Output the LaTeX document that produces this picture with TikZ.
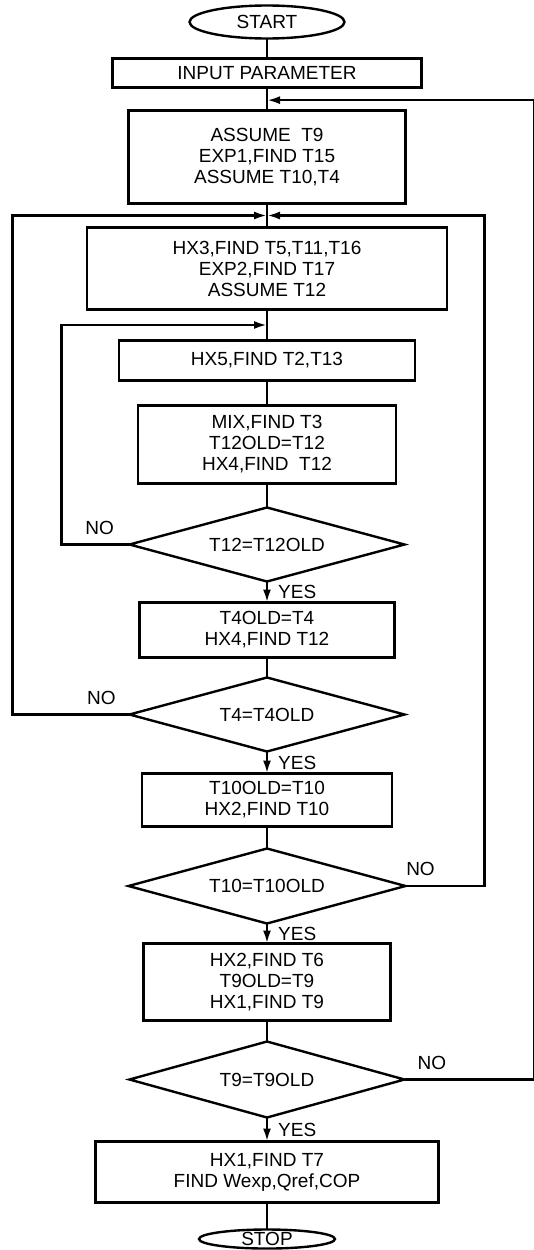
\documentclass[tikz,border=0pt]{standalone}
\usepackage{fontspec}
\setmainfont{Liberation Sans}
\usetikzlibrary{shapes.geometric, arrows.meta, positioning, calc}

\begin{document}
\begin{tikzpicture}[
  x=1pt, y=1pt,
  box/.style={rectangle, draw, line width=2.4pt, inner sep=3pt, outer sep=0pt, align=center,
              font=\fontsize{19}{21}\selectfont},
  term/.style={ellipse, draw, line width=2.4pt, inner sep=0pt, outer sep=0pt,
              font=\fontsize{19}{21}\selectfont},
  decision/.style={diamond, draw, line width=2.4pt, inner sep=0pt, outer sep=0pt, aspect=3.7,
              minimum width=275pt, minimum height=74pt,
              font=\fontsize{19}{21}\selectfont},
  line/.style={line width=2.4pt},
  arrow/.style={line width=2.4pt, -{Latex[length=13pt, width=8pt]}},
  yes/.style={right, midway, xshift=10pt, inner sep=0pt, font=\fontsize{19}{21}\selectfont},
  no/.style={above=9pt, inner sep=0pt, font=\fontsize{19}{21}\selectfont},
]
  \useasboundingbox (0,0) rectangle (533,-1250);

  % Top: start and setup
  \node[term, minimum width=155pt, minimum height=33pt] (start) at (267,-22) {START};
  \node[box, below=20pt of start, minimum width=309pt, minimum height=29pt] (input) {INPUT PARAMETER};
  \node[box, below=23pt of input, minimum width=277pt, minimum height=93pt] (assume)
    {ASSUME\ \ T9\\EXP1,FIND T15\\ASSUME T10,T4};

  % Inner loops
  \node[box, below=24pt of assume, minimum width=360pt, minimum height=82pt] (hx3)
    {HX3,FIND T5,T11,T16\\EXP2,FIND T17\\ASSUME T12};
  \node[box, below=31pt of hx3, minimum width=296pt, minimum height=40pt] (hx5) {HX5,FIND T2,T13};
  \node[box, below=25pt of hx5, minimum width=258pt, minimum height=78pt] (mix)
    {MIX,FIND T3\\T12OLD=T12\\HX4,FIND\ \ T12};
  \node[decision, below=24pt of mix] (dec12) {T12=T12OLD};
  \node[box, below=21pt of dec12, minimum width=255pt, minimum height=55pt] (t4old)
    {T4OLD=T4\\HX4,FIND T12};
  \node[decision, below=20pt of t4old] (dec4) {T4=T4OLD};
  \node[box, below=22pt of dec4, minimum width=250pt, minimum height=53pt] (t10old)
    {T10OLD=T10\\HX2,FIND T10};
  \node[decision, below=22pt of t10old, minimum width=277pt, minimum height=75pt] (dec10) {T10=T10OLD};

  % Bottom: outer loop and result
  \node[box, below=20pt of dec10, minimum width=247pt, minimum height=77pt] (hx2)
    {HX2,FIND T6\\T9OLD=T9\\HX1,FIND T9};
  \node[decision, below=21pt of hx2, minimum height=76pt] (dec9) {T9=T9OLD};
  \node[box, below=24pt of dec9, minimum width=343pt, minimum height=61pt] (hx1)
    {HX1,FIND T7\\FIND Wexp,Qref,COP};
  \node[term, below=27pt of hx1, minimum width=136pt, minimum height=19pt] (stop) {STOP};

  % Junctions on the main line
  \coordinate (j1) at ($(input.south)!0.55!(assume.north)$);
  \coordinate (j2) at ($(assume.south)!0.5!(hx3.north)$);
  \coordinate (j3) at ($(hx3.south)!0.5!(hx5.north)$);

  % Main line
  \draw[line] (start) -- (input);
  \draw[line] (input) -- (assume);
  \draw[line] (assume) -- (hx3);
  \draw[line] (hx3) -- (hx5);
  \draw[line] (hx5) -- (mix);
  \draw[line] (mix) -- (dec12);
  \draw[arrow] (dec12) -- node[yes]{YES} (t4old);
  \draw[line] (t4old) -- (dec4);
  \draw[arrow] (dec4) -- node[yes]{YES} (t10old);
  \draw[line] (t10old) -- (dec10);
  \draw[arrow] (dec10) -- node[yes]{YES} (hx2);
  \draw[line] (hx2) -- (dec9);
  \draw[arrow] (dec9) -- node[yes]{YES} (hx1);
  \draw[line] (hx1) -- (stop);

  % NO branches back up
  \draw[arrow] (dec12.west) -- node[no, pos=0.44]{NO} ++(-68pt,0) |- (j3);
  \draw[arrow] (dec4.west) -- node[no, pos=0.24]{NO} ++(-117pt,0) |- (j2);
  \draw[arrow] (dec10.east) -- node[no, pos=0.19]{NO} ++(79pt,0) |- (j2);
  \draw[arrow] (dec9.east) -- node[no, pos=0.21]{NO} ++(130pt,0) |- (j1);
\end{tikzpicture}
\end{document}
